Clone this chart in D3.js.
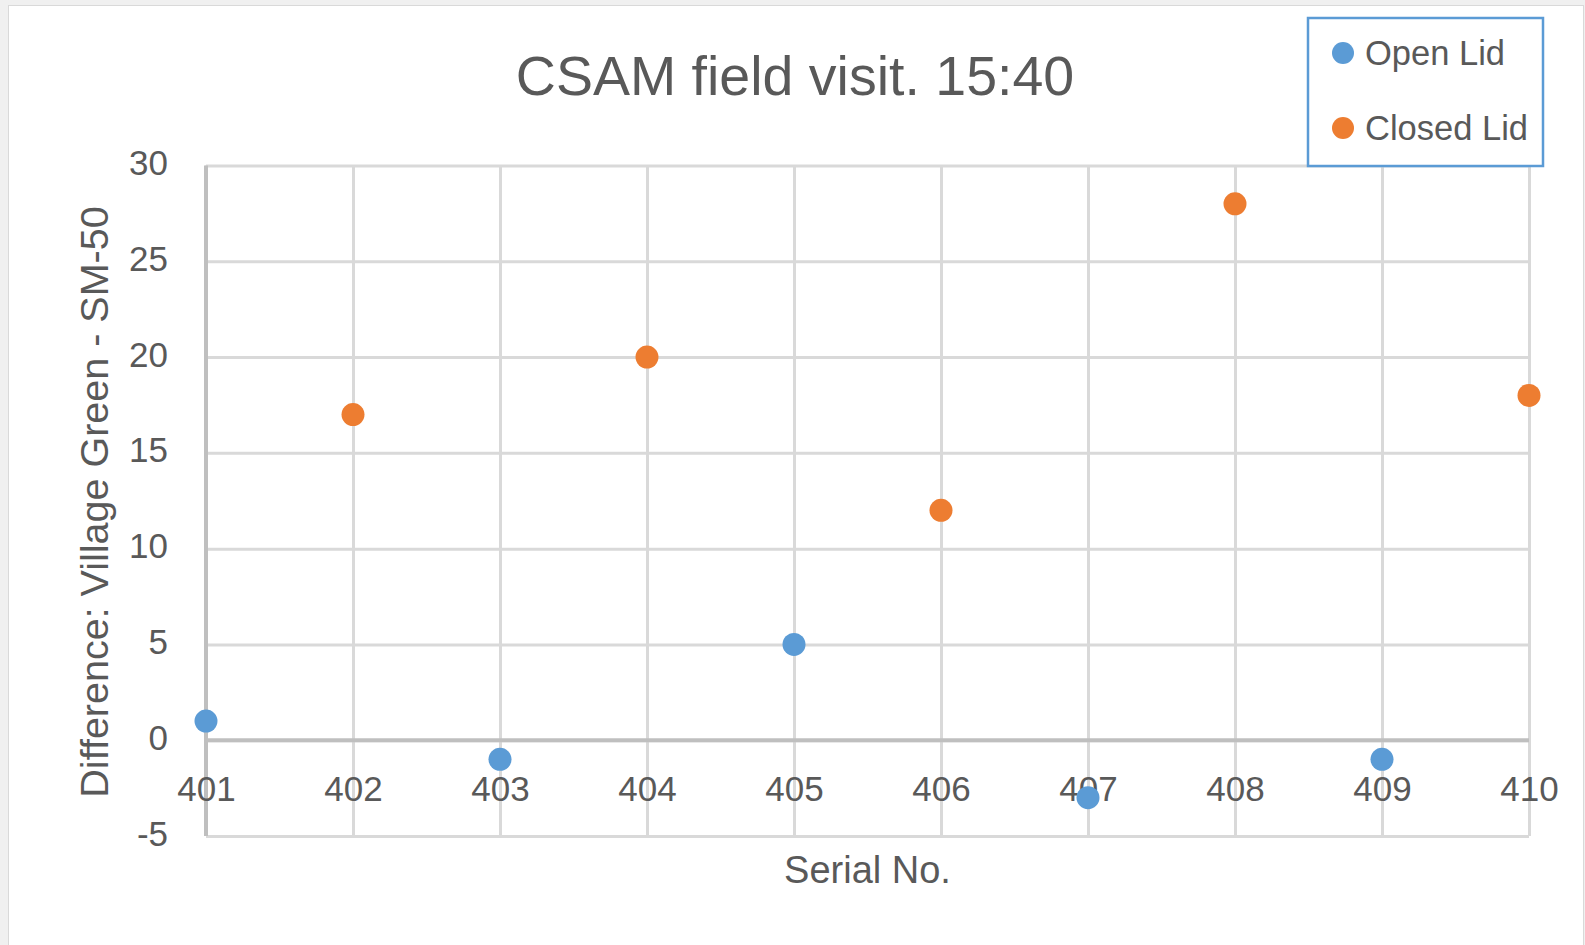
<!DOCTYPE html>
<html lang="en">
<head>
    <meta charset="UTF-8">
    <title>CSAM field visit. 15:40</title>
    <script type="application/javascript" src="https://cdnjs.cloudflare.com/ajax/libs/d3/7.8.5/d3.min.js"></script>
    <style type="text/css">
        body {
            margin: 0;
            background: #f0f0f0;
        }

        svg text {
            font-family: "Liberation Sans", Arial, sans-serif;
            fill: #595959;
        }

        .grid line {
            stroke: #d9d9d9;
            stroke-width: 3;
        }

        .grid path {
            display: none;
        }

        .ticks path, .ticks line {
            display: none;
        }
    </style>
</head>
<body>
<svg id="scatter" width="1585" height="945"></svg>
<script type="application/javascript">
    // chart values
    var serials = [401, 402, 403, 404, 405, 406, 407, 408, 409, 410];
    var yTicks = [-5, 0, 5, 10, 15, 20, 25, 30];
    var openSerial = [401, 403, 405, 407, 409];
    var openValues = [1, -1, 5, -3, -1];
    var closedSerial = [402, 404, 406, 408, 410];
    var closedValues = [17, 20, 12, 28, 18];
    var seriesNames = ['Open Lid', 'Closed Lid'];

    (function () {
        var BLUE = '#5b9bd5';
        var ORANGE = '#ed7d31';
        var svg = d3.select('#scatter');

        // plot area in page pixels
        var plot = {left: 206, right: 1529, top: 165.5, bottom: 836};

        var x = d3.scaleLinear()
                .domain([serials[0], serials[serials.length - 1]])
                .range([plot.left, plot.right]);

        var y = d3.scaleLinear()
                .domain([yTicks[0], yTicks[yTicks.length - 1]])
                .range([plot.bottom, plot.top]);

        // white chart card with thin border
        svg.append('rect')
                .attr('x', 8.5)
                .attr('y', 5.5)
                .attr('width', 1575)
                .attr('height', 945)
                .attr('fill', '#ffffff')
                .attr('stroke', '#d9d9d9')
                .attr('stroke-width', 1);

        // vertical grid
        svg.append('g')
                .attr('class', 'grid')
                .attr('transform', 'translate(0,' + plot.bottom + ')')
                .call(d3.axisBottom(x)
                        .tickValues(serials)
                        .tickSize(-(plot.bottom - plot.top))
                        .tickFormat(''));

        // horizontal grid
        svg.append('g')
                .attr('class', 'grid')
                .attr('transform', 'translate(' + plot.left + ',0)')
                .call(d3.axisLeft(y)
                        .tickValues(yTicks)
                        .tickSize(-(plot.right - plot.left))
                        .tickFormat(''));

        // axis lines (y axis at left, x axis crossing at zero)
        svg.append('line')
                .attr('x1', x(serials[0]))
                .attr('x2', x(serials[0]))
                .attr('y1', plot.top)
                .attr('y2', plot.bottom)
                .attr('stroke', '#bfbfbf')
                .attr('stroke-width', 4);

        svg.append('line')
                .attr('x1', plot.left)
                .attr('x2', plot.right)
                .attr('y1', y(0))
                .attr('y2', y(0))
                .attr('stroke', '#bfbfbf')
                .attr('stroke-width', 4);

        // tick labels
        var yAxisG = svg.append('g')
                .attr('class', 'ticks')
                .attr('transform', 'translate(' + plot.left + ',0)')
                .call(d3.axisLeft(y)
                        .tickValues(yTicks)
                        .tickSize(0)
                        .tickPadding(38)
                        .tickFormat(function (d) { return String(d); }));
        yAxisG.selectAll('text')
                .attr('font-size', 35)
                .attr('dy', '0.26em');

        var xAxisG = svg.append('g')
                .attr('class', 'ticks')
                .attr('transform', 'translate(0,' + y(0) + ')')
                .call(d3.axisBottom(x)
                        .tickValues(serials)
                        .tickSize(0)
                        .tickPadding(36)
                        .tickFormat(function (d) { return String(d); }));
        xAxisG.selectAll('text')
                .attr('font-size', 35);

        // title
        svg.append('text')
                .attr('x', 795)
                .attr('y', 95)
                .attr('text-anchor', 'middle')
                .attr('font-size', 55.5)
                .text('CSAM field visit. 15:40');

        // axis titles
        svg.append('text')
                .attr('x', (plot.left + plot.right) / 2)
                .attr('y', 883)
                .attr('text-anchor', 'middle')
                .attr('font-size', 38)
                .text('Serial No.');

        svg.append('text')
                .attr('text-anchor', 'middle')
                .attr('transform', 'translate(108,502)rotate(-90)')
                .attr('font-size', 39.5)
                .text('Difference: Village Green - SM-50');

        // points
        svg.append('g')
                .selectAll('circle')
                .data(d3.zip(openSerial, openValues))
                .enter()
                .append('circle')
                .attr('cx', function (d) { return x(d[0]); })
                .attr('cy', function (d) { return y(d[1]); })
                .attr('r', 11.5)
                .attr('fill', BLUE);

        svg.append('g')
                .selectAll('circle')
                .data(d3.zip(closedSerial, closedValues))
                .enter()
                .append('circle')
                .attr('cx', function (d) { return x(d[0]); })
                .attr('cy', function (d) { return y(d[1]); })
                .attr('r', 11.5)
                .attr('fill', ORANGE);

        // legend
        var legend = svg.append('g')
                .attr('transform', 'translate(1308,18)');

        legend.append('rect')
                .attr('width', 235)
                .attr('height', 148)
                .attr('fill', '#ffffff')
                .attr('stroke', BLUE)
                .attr('stroke-width', 2.5);

        var items = legend.selectAll('g.item')
                .data(seriesNames)
                .enter()
                .append('g')
                .attr('class', 'item')
                .attr('transform', function (d, i) { return 'translate(0,' + (35 + i * 75) + ')'; });

        items.append('circle')
                .attr('cx', 35)
                .attr('cy', 0)
                .attr('r', 11)
                .attr('fill', function (d, i) { return i === 0 ? BLUE : ORANGE; });

        items.append('text')
                .attr('x', 57)
                .attr('y', 12)
                .attr('font-size', 34.5)
                .text(function (d) { return d; });
    })();
</script>
</body>
</html>
